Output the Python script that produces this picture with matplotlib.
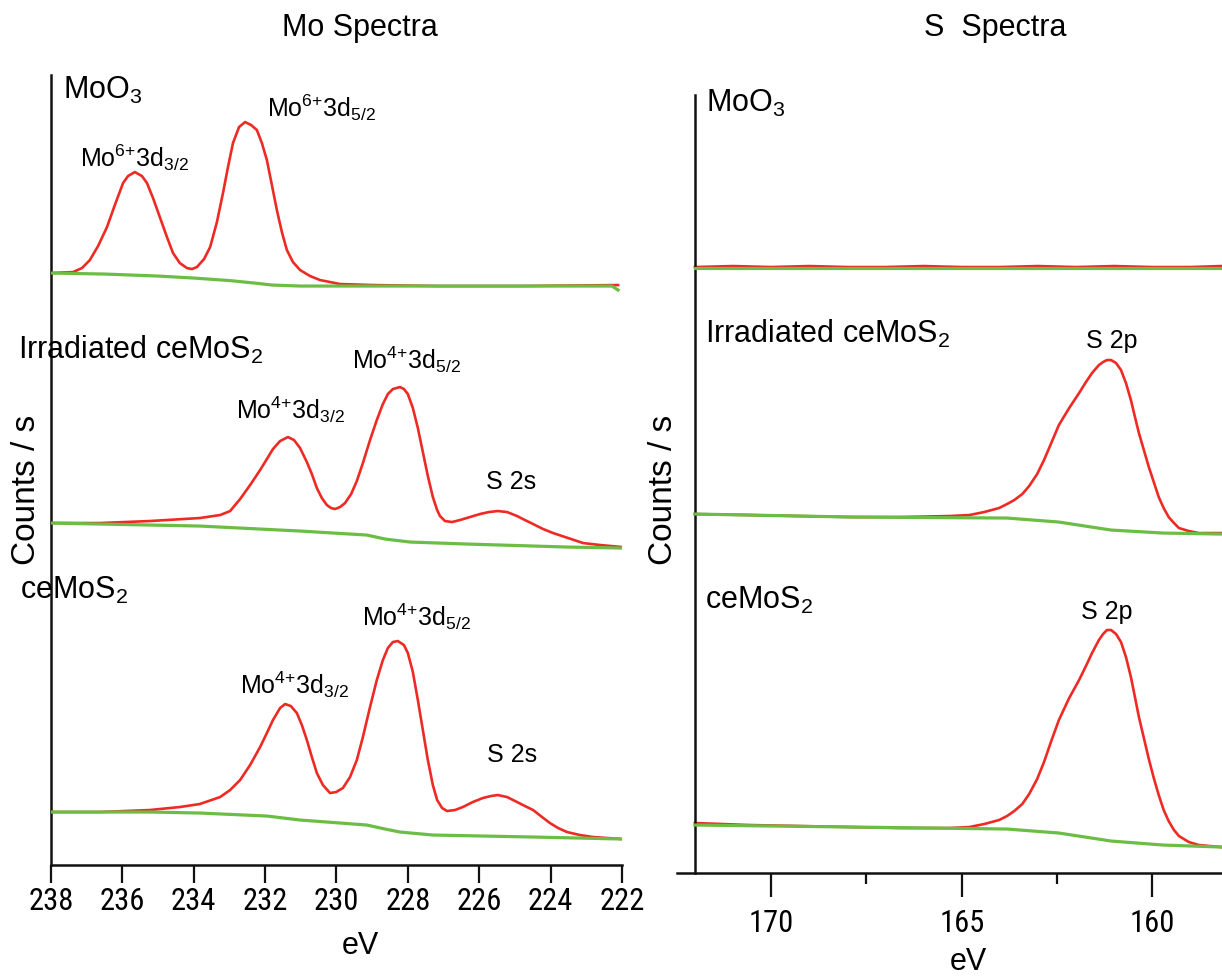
import matplotlib
matplotlib.use("Agg")
import matplotlib.pyplot as plt
from matplotlib import font_manager

# ---- data (binding energy in eV, intensity in arbitrary counts, stacked) ----

# Mo 3d region
mo_moo3_ev = [238.00, 237.38, 237.13, 236.91, 236.68, 236.43, 236.21, 235.98, 235.84, 235.65,
              235.45, 235.31, 235.14, 234.95, 234.75, 234.58, 234.39, 234.19, 234.05, 233.91,
              233.71, 233.54, 233.35, 233.18, 233.04, 232.90, 232.73, 232.56, 232.39, 232.23,
              232.09, 231.95, 231.81, 231.67, 231.53, 231.39, 231.22, 231.02, 230.74, 230.46,
              229.90, 228.98, 227.10, 224.86, 222.11]
mo_moo3_red = [592, 593, 597, 605, 619, 638, 660, 682, 689, 693,
               689, 682, 667, 648, 628, 612, 602, 597, 596, 598,
               606, 618, 643, 672, 698, 722, 738, 743, 740, 735,
               722, 705, 680, 655, 633, 615, 603, 595, 589, 585,
               581, 580, 579, 579, 580]
mo_moo3_bg_ev = [238.0, 236.5, 235.0, 234.0, 233.0, 232.3, 231.8, 231.0, 229.0, 225.0, 222.28, 222.11]
mo_moo3_bg = [592, 591, 589, 587, 584.5, 582, 580, 579, 579, 579, 579, 575]

mo_irr_ev = [238.00, 236.63, 235.23, 233.83, 233.26, 232.98, 232.70, 232.42, 232.14, 231.95,
             231.78, 231.58, 231.36, 231.19, 231.02, 230.83, 230.69, 230.55, 230.41, 230.27,
             230.15, 230.04, 229.90, 229.76, 229.59, 229.43, 229.26, 229.06, 228.87, 228.70,
             228.56, 228.42, 228.22, 228.11, 228.00, 227.86, 227.72, 227.58, 227.44, 227.30,
             227.18, 227.10, 226.96, 226.76, 226.54, 226.26, 225.98, 225.73, 225.48, 225.22,
             224.94, 224.72, 224.49, 224.21, 223.93, 223.51, 223.09, 222.61, 222.00]
mo_irr_red = [342, 342, 344, 347, 350, 354, 366, 380, 395, 406,
              416, 424, 428, 425, 417, 403, 391, 377, 367, 360,
              357, 356, 358, 362, 371, 384, 402, 425, 445, 461,
              471, 476, 478, 476, 471, 457, 437, 413, 389, 368,
              355, 349, 344, 343, 345, 348, 351, 353, 354, 353,
              349, 345, 341, 336, 332, 327, 322, 320, 318]
mo_irr_bg_ev = [238.0, 233.83, 231.02, 229.15, 228.64, 227.94, 226.34, 223.54, 222.0]
mo_irr_bg = [342, 339, 334, 330, 326, 323, 321, 318, 317]

mo_ce_ev = [238.00, 236.63, 235.23, 234.39, 233.83, 233.26, 232.98, 232.70, 232.42, 232.14,
            231.95, 231.78, 231.58, 231.44, 231.28, 231.11, 230.97, 230.83, 230.69, 230.55,
            230.38, 230.18, 230.01, 229.82, 229.62, 229.43, 229.26, 229.06, 228.87, 228.70,
            228.56, 228.42, 228.28, 228.11, 228.00, 227.86, 227.72, 227.58, 227.44, 227.30,
            227.18, 227.04, 226.90, 226.68, 226.46, 226.18, 225.90, 225.67, 225.48, 225.22,
            224.94, 224.72, 224.49, 224.24, 224.02, 223.79, 223.54, 223.18, 222.81, 222.00]
mo_ce_red = [53, 53, 55, 58, 61, 68, 75, 85, 100, 118,
             132, 145, 157, 161, 159, 152, 140, 125, 108, 92,
             80, 72, 73, 77, 88, 105, 128, 158, 185, 205,
             217, 223, 224, 220, 212, 193, 165, 135, 105, 80,
             65, 57, 54, 55, 58, 63, 67, 69, 70, 68,
             63, 59, 55, 48, 42, 37, 33, 30, 28, 26]
mo_ce_bg_ev = [238.0, 235.23, 233.83, 231.95, 231.02, 229.15, 228.64, 228.22, 227.30, 224.49, 222.0]
mo_ce_bg = [53, 53, 52, 49, 45, 40, 36, 33, 30, 28, 26]

# S 2p region
s_moo3_ev = [172.0, 171.0, 170.0, 169.0, 168.0, 167.0, 166.0, 165.0, 164.0, 163.0,
             162.0, 161.0, 160.0, 159.0, 158.2]
s_moo3_red = [606, 607, 606, 607, 606, 606, 607, 606, 606, 607, 606, 607, 606, 606, 607]
s_moo3_bg_ev = [172.0, 165.0, 158.2]
s_moo3_bg = [605.5, 605.5, 605.5]

s_ev = [172.00, 170.56, 169.25, 167.94, 166.63, 165.32, 164.80, 164.41, 164.02, 163.81,
        163.62, 163.41, 163.23, 163.02, 162.84, 162.65, 162.45, 162.18, 161.92, 161.74,
        161.58, 161.40, 161.29, 161.19, 161.08, 160.95, 160.82, 160.69, 160.56, 160.46,
        160.35, 160.22, 160.09, 159.96, 159.83, 159.70, 159.57, 159.43, 159.30, 159.04,
        158.78, 158.20]
s_irr_red = [359, 358, 357, 356, 356, 357, 358, 361, 365, 369,
             373, 379, 387, 399, 413, 430, 448, 465, 480, 491,
             500, 508, 511, 513, 513, 510, 503, 490, 473, 457,
             440, 423, 406, 391, 376, 365, 356, 350, 345, 342,
             340, 340]
s_ce_red = [50, 48, 47, 46, 45, 45, 46, 49, 53, 57,
            62, 69, 79, 94, 111, 132, 153, 175, 193, 207,
            220, 233, 239, 243, 243, 239, 231, 216, 196, 177,
            156, 135, 114, 95, 78, 63, 52, 43, 37, 31,
            28, 26]
s_bg_ev = [172.0, 167.86, 163.81, 162.45, 161.08, 159.72, 158.20]
s_irr_bg = [359, 356, 355, 351, 343, 340, 339]
s_ce_bg = [48, 46, 44, 40, 32, 28, 26]

RED = "#ee2a24"
GREEN = "#6cbd45"

# fonts: Arial-like text; the energy tick labels are set in a narrower face
MAIN_FONT = "Liberation Sans"
tick_font = dict(family=MAIN_FONT, size=20)
for f in font_manager.fontManager.ttflist:
    if f.name in ("Liberation Sans Narrow", "Arial Narrow", "Roboto Condensed"):
        tick_font = dict(family=f.name, size=22)
        break
plt.rcParams["font.family"] = [MAIN_FONT, "DejaVu Sans"]
plt.rcParams["mathtext.default"] = "regular"


def style_axis(ax, major_len, pad):
    for side in ("top", "right"):
        ax.spines[side].set_visible(False)
    for side in ("left", "bottom"):
        ax.spines[side].set_linewidth(1.8)
        ax.spines[side].set_color("#111111")
    ax.set_yticks([])
    ax.tick_params(axis="x", which="major", direction="out", length=major_len,
                   width=1.6, pad=pad, color="#111111")
    ax.tick_params(axis="x", which="minor", direction="out", length=8, width=1.6,
                   color="#111111")
    for lab in ax.get_xticklabels():
        lab.set_fontfamily(tick_font["family"])
        lab.set_fontsize(tick_font["size"])


def draw(ax, ev, red, bg_ev, bg):
    ax.plot(ev, red, color=RED, lw=1.9, zorder=2, solid_joinstyle="round")
    ax.plot(bg_ev, bg, color=GREEN, lw=2.3, zorder=3, solid_joinstyle="round")


fig = plt.figure(figsize=(12.22, 9.76), dpi=100)

# ---- Mo spectra ----
ax1 = fig.add_axes([0.0417, 0.1137, 0.4673, 0.8094])
draw(ax1, mo_moo3_ev, mo_moo3_red, mo_moo3_bg_ev, mo_moo3_bg)
draw(ax1, mo_irr_ev, mo_irr_red, mo_irr_bg_ev, mo_irr_bg)
draw(ax1, mo_ce_ev, mo_ce_red, mo_ce_bg_ev, mo_ce_bg)
ax1.set_xlim(238, 222)
ax1.set_ylim(0, 790)
ax1.set_xticks(range(238, 221, -2))
style_axis(ax1, 13, 3)

big = dict(fontsize=22, ha="left", va="center", clip_on=False)
small = dict(fontsize=18, ha="left", va="center", clip_on=False)
ax1.text(237.66, 775, "MoO$_3$", **big)
ax1.text(238.92, 515, "Irradiated ceMoS$_2$", **big)
ax1.text(238.87, 275, "ceMoS$_2$", **big)
ax1.text(237.19, 707, "Mo$^{6{+}}$3d$_{3/2}$", **small)
ax1.text(231.95, 757, "Mo$^{6{+}}$3d$_{5/2}$", **small)
ax1.text(232.82, 455, "Mo$^{4{+}}$3d$_{3/2}$", **small)
ax1.text(229.57, 505, "Mo$^{4{+}}$3d$_{5/2}$", **small)
ax1.text(225.81, 383, "S 2s", **small)
ax1.text(232.70, 180, "Mo$^{4{+}}$3d$_{3/2}$", **small)
ax1.text(229.29, 248, "Mo$^{4{+}}$3d$_{5/2}$", **small)
ax1.text(225.78, 110, "S 2s", **small)

# ---- S spectra ----
ax2 = fig.add_axes([0.554, 0.1055, 0.446, 0.7971])
draw(ax2, s_moo3_ev, s_moo3_red, s_moo3_bg_ev, s_moo3_bg)
draw(ax2, s_ev, s_irr_red, s_bg_ev, s_irr_bg)
draw(ax2, s_ev, s_ce_red, s_bg_ev, s_ce_bg)
ax2.set_xlim(172.47, 158.17)
ax2.set_ylim(0, 778)
ax2.spines["left"].set_position(("data", 172.0))
ax2.set_xticks([170, 165, 160])
ax2.set_xticks([167.5, 162.5], minor=True)
style_axis(ax2, 17, 9)

ax2.text(171.71, 770, "MoO$_3$", **big)
ax2.text(171.74, 539, "Irradiated ceMoS$_2$", **big)
ax2.text(171.74, 273, "ceMoS$_2$", **big)
ax2.text(161.06, 532, "S 2p", fontsize=18, ha="center", va="center")
ax2.text(161.19, 261, "S 2p", fontsize=18, ha="center", va="center")

# ---- titles and axis labels in figure coordinates ----
fig.text(360 / 1222, 1 - 28 / 976, "Mo Spectra", fontsize=22, ha="center", va="center")
fig.text(995 / 1222, 1 - 28 / 976, "S  Spectra", fontsize=22, ha="center", va="center")
fig.text(27 / 1222, 1 - 490 / 976, "Counts / s", fontsize=24, rotation=90,
         ha="center", va="center")
fig.text(664 / 1222, 1 - 490 / 976, "Counts / s", fontsize=24, rotation=90,
         ha="center", va="center")
fig.text(360 / 1222, 1 - 946 / 976, "eV", fontsize=22, ha="center", va="center")
fig.text(968 / 1222, 1 - 962 / 976, "eV", fontsize=22, ha="center", va="center")

fig.savefig("out.png", dpi=100)
